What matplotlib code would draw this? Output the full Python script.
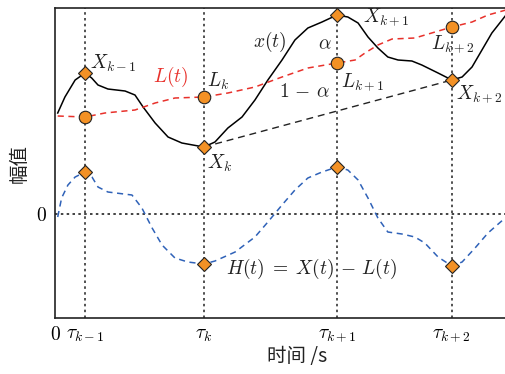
import numpy as np
import matplotlib
matplotlib.use("Agg")
import matplotlib.pyplot as plt

plt.rcParams['mathtext.fontset'] = 'cm'
plt.rcParams['font.family'] = ['DejaVu Serif']

# signal x(t)
t_x = [0.09, 0.33, 0.67, 1.0, 1.22, 1.43, 1.76, 2.33, 2.66, 2.93, 3.33, 3.76, 4.22,
       4.95, 5.32, 5.75, 6.22, 6.65, 7.08, 7.55, 7.98, 8.41, 8.88, 9.38, 9.74, 10.08,
       10.41, 10.74, 11.07, 11.41, 11.87, 12.20, 12.74, 13.2, 13.54, 13.87, 14.20,
       14.53, 14.87, 15.0]
x_t = [2.02, 2.34, 2.68, 2.82, 2.72, 2.58, 2.50, 2.46, 2.38, 2.14, 1.82, 1.54, 1.42,
       1.34, 1.44, 1.72, 1.94, 2.28, 2.68, 3.08, 3.48, 3.72, 3.84, 3.98, 3.94, 3.82,
       3.54, 3.32, 3.14, 3.08, 3.06, 2.98, 2.82, 2.68, 2.74, 2.94, 3.28, 3.62, 3.88,
       3.98]

# slow trend L(t)
t_l = [0.09, 1.0, 1.66, 2.66, 3.33, 3.99, 4.95, 5.75, 6.65, 7.55, 8.41, 9.38, 9.98,
       10.31, 10.74, 11.21, 11.97, 12.64, 13.2, 13.87, 14.40, 15.0]
l_t = [1.96, 1.94, 2.02, 2.08, 2.22, 2.32, 2.34, 2.42, 2.54, 2.74, 2.92, 3.02, 3.08,
       3.22, 3.38, 3.50, 3.52, 3.64, 3.74, 3.84, 3.98, 4.08]

# residual H(t) = X(t) - L(t)
t_h = [0.09, 0.22, 0.43, 0.67, 1.0, 1.23, 1.43, 1.76, 2.56, 2.89, 3.23, 3.56, 3.99,
       4.42, 4.95, 5.32, 5.99, 6.65, 7.08, 7.55, 7.98, 8.41, 8.88, 9.38, 9.74, 10.08,
       10.41, 10.74, 11.07, 11.54, 11.97, 12.30, 12.74, 13.2, 13.54, 13.97, 14.40,
       14.97]
h_t = [-0.06, 0.32, 0.58, 0.74, 0.84, 0.74, 0.54, 0.44, 0.38, 0.12, -0.28, -0.62,
       -0.88, -0.96, -1.0, -0.94, -0.76, -0.46, -0.16, 0.18, 0.48, 0.72, 0.84, 0.94,
       0.88, 0.68, 0.32, -0.08, -0.36, -0.40, -0.46, -0.58, -0.86, -1.04, -0.96,
       -0.68, -0.38, -0.08]

tau = [1.0, 4.95, 9.38, 13.2]
x_tau = [2.82, 1.34, 3.98, 2.68]
l_tau = [1.94, 2.34, 3.02, 3.74]
h_tau = [0.84, -1.0, 0.94, -1.04]
tick_pos = [0] + tau
tick_lbl = ['$0$', r'$\tau_{k-1}$', r'$\tau_k$', r'$\tau_{k+1}$', r'$\tau_{k+2}$']

orange = '#f39125'
red = '#e8312b'
blue = '#2f62b8'

fig = plt.figure(figsize=(5.06, 3.74), dpi=100)
ax = fig.add_axes([0.1087, 0.1497, 0.8913, 0.8289])
ax.set_xlim(0, 15)
ax.set_ylim(-2.08, 4.12)

# guides
for tv in tau:
    ax.axvline(tv, color='#333333', ls=(0, (1.5, 2)), lw=1.2, zorder=1)
ax.axhline(0, color='#222222', ls=(0, (1.5, 2)), lw=1.2, zorder=1)

ax.plot(t_x, x_t, color='black', lw=1.1, zorder=2, solid_joinstyle='round')
ax.plot(t_l, l_t, color=red, lw=1.1, ls=(0, (4, 3)), zorder=2)
ax.plot(t_h, h_t, color=blue, lw=1.1, ls=(0, (4, 3)), zorder=2)
ax.plot([tau[1], tau[3]], [x_tau[1], x_tau[3]], color='#222222', lw=1.0,
        ls=(0, (5, 3.5)), zorder=2)

mk = dict(mfc=orange, mec='#222222', mew=0.8, ls='none', zorder=4)
ax.plot(tau, x_tau, marker='D', ms=7, **mk)
ax.plot(tau, l_tau, marker='o', ms=9, **mk)
ax.plot(tau, h_tau, marker='D', ms=7, **mk)

fs = 14
txt = dict(fontsize=fs, color='#222222')
ax.text(1.15, 2.9, r'$X_{k-1}$', **txt)
ax.text(3.25, 2.65, r'$L(t)$', fontsize=fs, color=red)
ax.text(5.05, 2.55, r'$L_k$', **txt)
ax.text(5.05, 0.9, r'$X_k$', **txt)
ax.text(6.6, 3.35, r'$x(t)$', **txt)
ax.text(8.75, 3.3, r'$\alpha$', **txt)
ax.text(7.45, 2.35, r'$1\,-\,\alpha$', **txt)
ax.text(10.25, 3.85, r'$X_{k+1}$', **txt)
ax.text(9.5, 2.55, r'$L_{k+1}$', **txt)
ax.text(12.5, 3.3, r'$L_{k+2}$', **txt)
ax.text(13.35, 2.3, r'$X_{k+2}$', **txt)
ax.text(5.7, -1.2, r'$H(t)\;=\;X(t)\,-\,L(t)$', **txt)

ax.set_xticks(tick_pos)
ax.set_xticklabels(tick_lbl, fontsize=fs)
ax.set_yticks([0])
ax.set_yticklabels(['$0$'], fontsize=fs)
ax.tick_params(length=0, pad=6)
ax.spines['right'].set_visible(False)
for s in ['top', 'bottom', 'left']:
    ax.spines[s].set_linewidth(1.2)
    ax.spines[s].set_color('#222222')

ax.set_xlabel('时间 /s', family=['Noto Sans CJK SC', 'DejaVu Sans'], fontsize=14,
              color='#222222')
ax.xaxis.set_label_coords(0.537, -0.09)
ax.set_ylabel('幅值', family=['Noto Sans CJK SC', 'DejaVu Sans'], fontsize=14,
              color='#222222', labelpad=4)

fig.savefig('out.png', dpi=100)
